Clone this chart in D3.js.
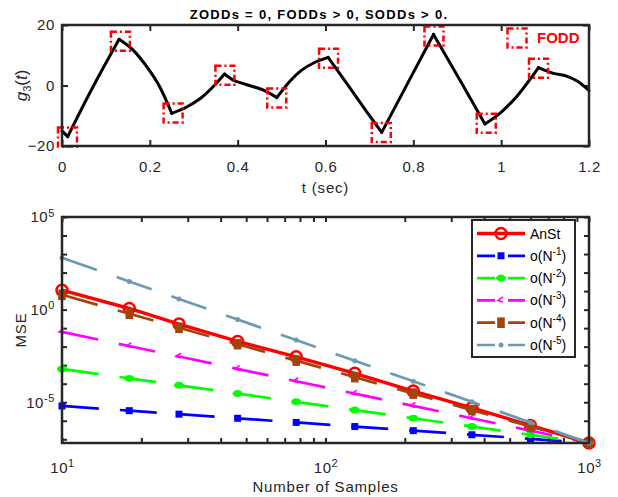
<!DOCTYPE html>
<html>
<head>
<meta charset="utf-8">
<script src="https://cdn.jsdelivr.net/npm/d3@7"></script>
<style>
  body { margin: 0; background: #fff; }
  svg { font-family: "Liberation Sans", Arial, Helvetica, sans-serif; }
</style>
</head>
<body>
<script>
// ---------- data: top panel, g3(t) ----------
const gTime  = [0, 0.013, 0.07, 0.130, 0.162, 0.193, 0.223, 0.250, 0.284, 0.314, 0.344, 0.370,
                0.390, 0.413, 0.466, 0.489, 0.520, 0.545, 0.575, 0.606, 0.656, 0.694, 0.728,
                0.787, 0.846, 0.906, 0.963, 0.997, 1.035, 1.085, 1.119, 1.149, 1.175, 1.200];
const gValue = [-15, -16.9, -0.6, 15.3, 11.7, 6.2, -0.6, -9.2, -7.1, -4.4, -0.4, 3.8,
                1.8, 0.6, -2.0, -4.0, 1.6, 5.0, 7.6, 9.3, -0.9, -8.7, -15.5,
                0.7, 16.9, 1.8, -12.7, -9.2, -3.7, 5.9, 4.0, 3.1, 1.3, -1.7];
// indices where the signal has a corner (first-order discontinuity)
const gCorners = [1, 3, 7, 11, 15, 19, 22, 24, 26, 29];
const boxTime  = [0.0125, 0.133, 0.253, 0.371, 0.489, 0.607, 0.727, 0.847, 0.966, 1.085];
const boxValue = [-17, 14.6, -9.1, 3.4, -4.1, 9.0, -15.5, 16.4, -12.5, 5.7];
const timeTicks = [0, 0.2, 0.4, 0.6, 0.8, 1, 1.2];
const gTicks = [-20, 0, 20];

// ---------- data: bottom panel, MSE vs number of samples ----------
const samples = [10, 18, 27.8, 46.4, 77.4, 129.2, 215.4, 359.4, 599.5, 1000];
const mseAnSt = [11.2, 1.15, 0.166, 0.0191, 2.82e-3, 3.63e-4, 3.98e-5, 5.0e-6, 5.6e-7, 6.3e-8];
const mseN1 = [6.3e-6, 3.5e-6, 2.27e-6, 1.36e-6, 8.14e-7, 4.88e-7, 2.93e-7, 1.75e-7, 1.05e-7, 6.3e-8];
const mseN2 = [6.3e-4, 1.94e-4, 8.15e-5, 2.93e-5, 1.05e-5, 3.77e-6, 1.36e-6, 4.88e-7, 1.75e-7, 6.3e-8];
const mseN3 = [6.3e-2, 1.08e-2, 2.93e-3, 6.3e-4, 1.36e-4, 2.92e-5, 6.31e-6, 1.36e-6, 2.92e-7, 6.3e-8];
const mseN4 = [6.3, 0.600, 0.105, 1.36e-2, 1.76e-3, 2.26e-4, 2.93e-5, 3.77e-6, 4.88e-7, 6.3e-8];
const mseN5 = [630, 33.3, 3.79, 0.293, 2.27e-2, 1.75e-3, 1.36e-4, 1.05e-5, 8.13e-7, 6.3e-8];
const sampleTicks = [10, 20, 30, 40, 50, 60, 70, 80, 90, 100, 200, 300, 400, 500, 600, 700, 800, 900, 1000];
const sampleLabels = [10, 100, 1000];
const mseTickExps = [-7, -6, -5, -4, -3, -2, -1, 0, 1, 2, 3, 4, 5];
const mseLabelExps = [-5, 0, 5];
const legendNames = ["AnSt", "-1", "-2", "-3", "-4", "-5"];

const axisColor = "#262626";

const svg = d3.select("body").append("svg")
    .attr("width", 618)
    .attr("height", 497);

// ================= TOP PANEL =================
const tp = {left: 62, right: 589, top: 25, bottom: 146};

const tx = d3.scaleLinear().domain([0, 1.2]).range([tp.left, tp.right]);
const ty = d3.scaleLinear().domain([-20, 20]).range([tp.bottom, tp.top]);

svg.append("rect")
    .attr("x", tp.left).attr("y", tp.top)
    .attr("width", tp.right - tp.left).attr("height", tp.bottom - tp.top)
    .attr("fill", "#fff");

// ticks pointing inwards on all four sides
svg.append("g")
    .attr("transform", `translate(0,${tp.bottom})`)
    .call(d3.axisBottom(tx).tickValues(timeTicks).tickSize(-6).tickPadding(15).tickFormat(d3.format("~g")))
    .call(g => g.select(".domain").remove());
svg.append("g")
    .attr("transform", `translate(0,${tp.top})`)
    .call(d3.axisTop(tx).tickValues(timeTicks).tickSize(-6).tickFormat(""))
    .call(g => g.select(".domain").remove());
svg.append("g")
    .attr("transform", `translate(${tp.left},0)`)
    .call(d3.axisLeft(ty).tickValues(gTicks).tickSize(-6).tickPadding(7))
    .call(g => g.select(".domain").remove());
svg.append("g")
    .attr("transform", `translate(${tp.right},0)`)
    .call(d3.axisRight(ty).tickValues(gTicks).tickSize(-6).tickFormat(""))
    .call(g => g.select(".domain").remove());

// the signal, one smooth piece between each pair of corners
const gPoints = gTime.map((t, i) => ({t: t, v: gValue[i]}));
const cuts = [0, ...gCorners, gPoints.length - 1];
const gLine = d3.line()
    .x(d => tx(d.t))
    .y(d => ty(d.v))
    .curve(d3.curveMonotoneX);
for (let i = 0; i < cuts.length - 1; i++) {
    svg.append("path")
        .datum(gPoints.slice(cuts[i], cuts[i + 1] + 1))
        .attr("fill", "none")
        .attr("stroke", "#000")
        .attr("stroke-width", 3)
        .attr("stroke-linejoin", "round")
        .attr("stroke-linecap", "round")
        .attr("d", gLine);
}

// red dash-dot boxes on the corners
svg.selectAll(".fodd")
    .data(boxTime)
    .enter()
    .append("rect")
    .attr("x", (d, i) => tx(d) - 9.5)
    .attr("y", (d, i) => ty(boxValue[i]) - 9.5)
    .attr("width", 19)
    .attr("height", 19)
    .attr("fill", "none")
    .attr("stroke", "#ff0000")
    .attr("stroke-width", 2.5)
    .attr("stroke-dasharray", "6,3,2,3");

svg.append("rect")
    .attr("x", 507.5).attr("y", 28.5)
    .attr("width", 19).attr("height", 19)
    .attr("fill", "none")
    .attr("stroke", "#ff0000")
    .attr("stroke-width", 2.5)
    .attr("stroke-dasharray", "6,3,2,3");
svg.append("text")
    .attr("x", 537).attr("y", 43)
    .attr("fill", "#ff0000")
    .attr("font-weight", "bold")
    .attr("font-size", 15)
    .text("FODD");

svg.append("rect")
    .attr("x", tp.left).attr("y", tp.top)
    .attr("width", tp.right - tp.left).attr("height", tp.bottom - tp.top)
    .attr("fill", "none")
    .attr("stroke", axisColor)
    .attr("stroke-width", 2.5);

// title and labels
svg.append("text")
    .attr("x", 319).attr("y", 19)
    .style("text-anchor", "middle")
    .attr("font-weight", "bold")
    .attr("font-size", 13)
    .attr("letter-spacing", 1.3)
    .attr("fill", "#000")
    .text("ZODDs = 0, FODDs > 0, SODDs > 0.");

svg.append("text")
    .attr("x", (tp.left + tp.right) / 2).attr("y", 193)
    .style("text-anchor", "middle")
    .attr("font-size", 15)
    .attr("letter-spacing", 0.8)
    .attr("fill", axisColor)
    .text("t (sec)");

const gLabel = svg.append("text")
    .attr("transform", `translate(27,${(tp.top + tp.bottom) / 2}) rotate(-90)`)
    .style("text-anchor", "middle")
    .attr("font-size", 17)
    .attr("fill", axisColor);
gLabel.append("tspan").attr("font-style", "italic").text("g");
gLabel.append("tspan").attr("font-size", 11).attr("dy", 4).text("3");
gLabel.append("tspan").attr("dy", -4).text("(");
gLabel.append("tspan").attr("font-style", "italic").text("t");
gLabel.append("tspan").text(")");

// ================= BOTTOM PANEL =================
const bp = {left: 62, right: 589, top: 217, bottom: 443};

const bx = d3.scaleLog().domain([10, 1000]).range([bp.left, bp.right]);
const by = d3.scaleLog().domain([6.3e-8, 1e5]).range([bp.bottom, bp.top]);

const mseTicks = mseTickExps.map(e => Math.pow(10, e));

function powerLabel(text, exp) {
    text.text(null);
    text.append("tspan").text("10");
    text.append("tspan").attr("dy", "-0.5em").attr("font-size", 11).text(exp);
}

svg.append("rect")
    .attr("x", bp.left).attr("y", bp.top)
    .attr("width", bp.right - bp.left).attr("height", bp.bottom - bp.top)
    .attr("fill", "#fff");

svg.append("g")
    .attr("transform", `translate(0,${bp.bottom})`)
    .call(d3.axisBottom(bx).tickValues(sampleTicks).tickSize(-5).tickPadding(19).tickFormat(""))
    .call(g => g.select(".domain").remove())
    .call(g => g.selectAll(".tick text").each(function(d) {
        if (sampleLabels.includes(d)) powerLabel(d3.select(this), Math.round(Math.log10(d)));
    }));
svg.append("g")
    .attr("transform", `translate(0,${bp.top})`)
    .call(d3.axisTop(bx).tickValues(sampleTicks).tickSize(-5).tickFormat(""))
    .call(g => g.select(".domain").remove());
svg.append("g")
    .attr("transform", `translate(${bp.left},0)`)
    .call(d3.axisLeft(by).tickValues(mseTicks).tickSize(-5).tickPadding(7).tickFormat(""))
    .call(g => g.select(".domain").remove())
    .call(g => g.selectAll(".tick text").each(function(d) {
        const e = Math.round(Math.log10(d));
        if (mseLabelExps.includes(e)) powerLabel(d3.select(this), e);
    }));
svg.append("g")
    .attr("transform", `translate(${bp.right},0)`)
    .call(d3.axisRight(by).tickValues(mseTicks).tickSize(-5).tickFormat(""))
    .call(g => g.select(".domain").remove());

svg.selectAll(".tick line").attr("stroke", axisColor).attr("stroke-width", 2);
svg.selectAll(".tick text").attr("fill", axisColor).attr("font-size", 15).attr("letter-spacing", 0.6);

// series
const series = [
    {values: mseAnSt, color: "#ff0000", dash: null,    marker: "circle"},
    {values: mseN1,   color: "#0000ff", dash: "37,21", marker: "square"},
    {values: mseN2,   color: "#00ff00", dash: "37,21", marker: "ellipse"},
    {values: mseN3,   color: "#ff00ff", dash: "37,21", marker: "arrow"},
    {values: mseN4,   color: "#a3440c", dash: "37,21", marker: "tall"},
    {values: mseN5,   color: "#6b9ab3", dash: "37,21", marker: "dot"}
];

const mseLine = d3.line()
    .x(d => bx(d.n))
    .y(d => by(d.v));

function drawMarker(g, type, color) {
    if (type === "circle") {
        g.append("circle").attr("r", 5.5).attr("fill", "none")
            .attr("stroke", color).attr("stroke-width", 2.5);
    } else if (type === "square") {
        g.append("rect").attr("x", -3.5).attr("y", -3.5).attr("width", 7).attr("height", 7)
            .attr("fill", color);
    } else if (type === "ellipse") {
        g.append("ellipse").attr("rx", 5).attr("ry", 3.5).attr("fill", color);
    } else if (type === "arrow") {
        g.append("path").attr("d", "M2,-3.5L-3,0L2,1.5").attr("fill", "none")
            .attr("stroke", color).attr("stroke-width", 1.6);
    } else if (type === "tall") {
        g.append("rect").attr("x", -3.8).attr("y", -5.3).attr("width", 7.6).attr("height", 10.6)
            .attr("fill", color);
    } else {
        g.append("circle").attr("r", 2.5).attr("fill", color);
    }
}

series.forEach(s => {
    const pts = samples.map((n, i) => ({n: n, v: s.values[i]}));
    svg.append("path")
        .datum(pts)
        .attr("fill", "none")
        .attr("stroke", s.color)
        .attr("stroke-width", s.dash ? 2.7 : 3.4)
        .attr("stroke-dasharray", s.dash)
        .attr("d", mseLine);
    pts.forEach(p => {
        const m = svg.append("g").attr("transform", `translate(${bx(p.n)},${by(p.v)})`);
        drawMarker(m, s.marker, s.color);
    });
});

svg.append("rect")
    .attr("x", bp.left).attr("y", bp.top)
    .attr("width", bp.right - bp.left).attr("height", bp.bottom - bp.top)
    .attr("fill", "none")
    .attr("stroke", axisColor)
    .attr("stroke-width", 2.5);

// legend
const legend = svg.append("g").attr("transform", "translate(472,220)");
legend.append("rect")
    .attr("width", 103).attr("height", 137)
    .attr("fill", "#fff")
    .attr("stroke", axisColor)
    .attr("stroke-width", 2);

series.forEach((s, i) => {
    const yy = 13.5 + i * 22.3;
    legend.append("line")
        .attr("x1", 5).attr("x2", 53)
        .attr("y1", yy).attr("y2", yy)
        .attr("stroke", s.color)
        .attr("stroke-width", s.dash ? 2.7 : 3.4)
        .attr("stroke-dasharray", s.dash ? "18,13" : null);
    drawMarker(legend.append("g").attr("transform", `translate(29,${yy})`), s.marker, s.color);
    const label = legend.append("text")
        .attr("x", 58).attr("y", yy + 5)
        .attr("font-size", 14)
        .attr("fill", "#000");
    if (i === 0) {
        label.text(legendNames[i]);
    } else {
        label.append("tspan").text("o(N");
        label.append("tspan").attr("dy", -6).attr("font-size", 10).text(legendNames[i]);
        label.append("tspan").attr("dy", 6).text(")");
    }
});

// axis labels
svg.append("text")
    .attr("x", (bp.left + bp.right) / 2).attr("y", 492)
    .style("text-anchor", "middle")
    .attr("font-size", 15)
    .attr("letter-spacing", 0.8)
    .attr("fill", axisColor)
    .text("Number of Samples");

svg.append("text")
    .attr("transform", `translate(26,${(bp.top + bp.bottom) / 2}) rotate(-90)`)
    .style("text-anchor", "middle")
    .attr("font-size", 15)
    .attr("letter-spacing", 0.8)
    .attr("fill", axisColor)
    .text("MSE");
</script>
</body>
</html>
